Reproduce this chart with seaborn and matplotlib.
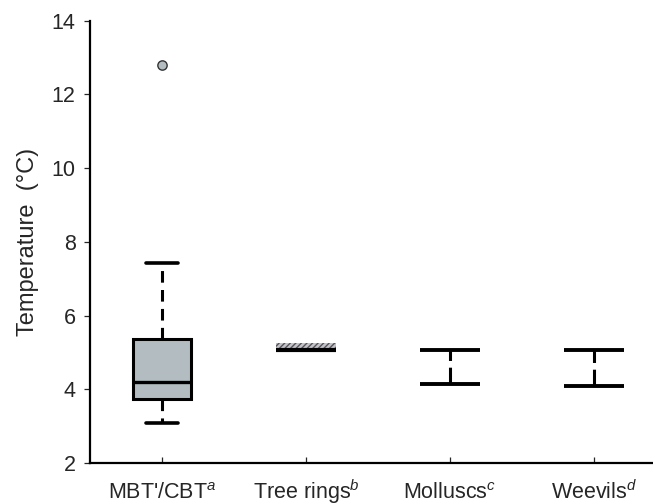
import matplotlib
matplotlib.use('Agg')
import matplotlib.pyplot as plt
import seaborn as sns

# proxy temperature estimates (deg C)
categories = ["MBT'/CBT$^{\\it a}$", "Tree rings$^{\\it b}$", "Molluscs$^{\\it c}$", "Weevils$^{\\it d}$"]

# MBT'/CBT box summary
mbt_whislo, mbt_q1, mbt_med, mbt_q3, mbt_whishi = 3.09, 3.75, 4.2, 5.38, 7.43
mbt_outliers = [12.79]

# tree rings: narrow band
tree_low, tree_high = 5.06, 5.25

# molluscs and weevils: ranges
range_pos = [2, 3]
range_low = [4.14, 4.10]
range_high = [5.08, 5.08]

yticks = [2, 4, 6, 8, 10, 12, 14]

sns.set_style('white')
plt.rcParams['font.family'] = ['Liberation Sans', 'DejaVu Sans']
plt.rcParams['mathtext.fontset'] = 'custom'
plt.rcParams['mathtext.rm'] = 'Liberation Sans'
plt.rcParams['mathtext.it'] = 'Liberation Sans:italic'

fig = plt.figure(figsize=(6.53, 5.04), dpi=100)
ax = fig.add_axes([0.138, 0.081, 0.862, 0.878])

box_color = '#b3bdc1'
dash = (0, (3.8, 2.4))

stats = [dict(whislo=mbt_whislo, q1=mbt_q1, med=mbt_med, q3=mbt_q3, whishi=mbt_whishi, fliers=[])]
ax.bxp(stats, positions=[0], widths=0.4, capwidths=0.22, patch_artist=True,
       boxprops=dict(facecolor=box_color, edgecolor='black', linewidth=2.2),
       medianprops=dict(color='black', linewidth=2.4),
       whiskerprops=dict(color='black', linewidth=2.2, linestyle=dash),
       capprops=dict(color='black', linewidth=2.6), showfliers=False)

sns.scatterplot(x=[0] * len(mbt_outliers), y=mbt_outliers, ax=ax, s=45,
                color=box_color, edgecolor='#333333', linewidth=1.0, zorder=5)

# tree rings hatched band
ax.bar([1], [tree_high - tree_low], bottom=[tree_low], width=0.42,
       color='#c4c4c8', edgecolor='#55555c', hatch='//////', linewidth=0)
ax.hlines(tree_low, 1 - 0.21, 1 + 0.21, color='black', linewidth=3)

# molluscs / weevils ranges
ax.vlines(range_pos, range_low, range_high, color='black', linewidth=2.2,
          linestyle=(0, (5.5, 2.2)))
for p in range_pos:
    ax.hlines([range_low[p - 2], range_high[p - 2]], p - 0.21, p + 0.21,
              color='black', linewidth=2.8)

ax.set_xlim(-0.5, 3.41)
ax.set_ylim(2, 14)
ax.set_yticks(yticks)
ax.set_xticks(range(len(categories)))
ax.set_xticklabels(categories)
ax.set_ylabel('Temperature  (°C)', fontsize=17, labelpad=9)

for s in ['top', 'right']:
    ax.spines[s].set_visible(False)
for s in ['left', 'bottom']:
    ax.spines[s].set_linewidth(1.6)
    ax.spines[s].set_color('black')

ax.tick_params(axis='y', direction='out', length=4.5, width=0.9, labelsize=15.5, pad=6, left=True)
ax.tick_params(axis='x', direction='in', length=4.5, width=0.9, labelsize=15.5, pad=26, bottom=True)
for lab in ax.get_xticklabels():
    lab.set_verticalalignment('baseline')

fig.savefig('out.png', dpi=100)
